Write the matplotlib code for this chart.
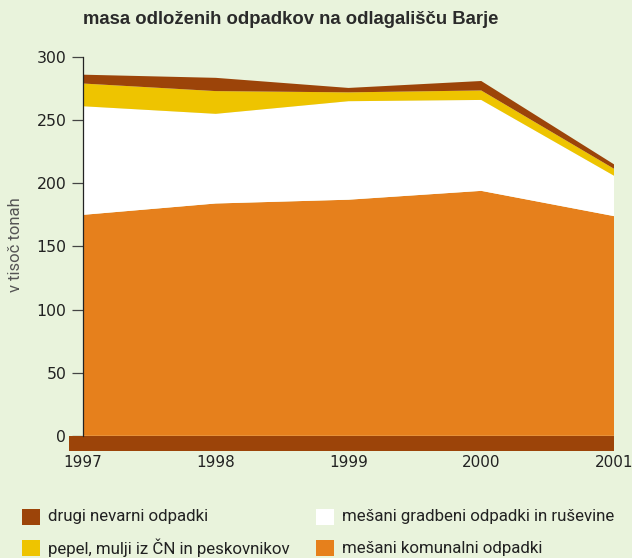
import matplotlib
matplotlib.use("Agg")
import matplotlib.pyplot as plt
from matplotlib.patches import Rectangle

years = [1997, 1998, 1999, 2000, 2001]
komunalni = [175, 184, 187, 194, 174]
gradbeni = [86, 71, 78, 72, 32]
pepel = [18, 18, 7, 7.5, 5.5]
drugi = [7, 10.5, 3.5, 7.5, 3.5]

labels = ["mešani komunalni odpadki", "mešani gradbeni odpadki in ruševine",
          "pepel, mulji iz ČN in peskovnikov", "drugi nevarni odpadki"]
colors = ["#e6801c", "#ffffff", "#eec400", "#9c4409"]
yticks = [0, 50, 100, 150, 200, 250, 300]

bg = "#e9f3dc"
W, H = 632, 558
fig = plt.figure(figsize=(W / 100, H / 100), dpi=100, facecolor=bg)
ax = fig.add_axes([83 / W, (H - 451) / H, (614 - 83) / W, (451 - 57) / H])
ax.set_facecolor(bg)

ax.stackplot(years, komunalni, gradbeni, pepel, drugi, colors=colors,
             linewidth=0, antialiased=True)
ax.set_xlim(1997, 2001)
ax.set_ylim(-12, 300)

# bottom band
ax.add_patch(Rectangle((1996.895, -12), 2001 - 1996.895, 12, facecolor="#9c4409",
                       edgecolor="none", clip_on=False, zorder=3))

for s in ["top", "right", "bottom"]:
    ax.spines[s].set_visible(False)
ax.spines["left"].set_bounds(0, 300)
ax.spines["left"].set_color("#222222")
ax.spines["left"].set_linewidth(0.9)
ax.spines["left"].set_zorder(4)

ax.set_yticks(yticks)
ax.set_yticklabels([str(v) for v in yticks], fontfamily="DejaVu Sans", fontsize=11.3,
                   color="#222222")
ax.tick_params(axis="y", length=8, width=0.9, color="#444444", pad=4)
ax.set_xticks(years)
ax.set_xticklabels([str(y) for y in years], fontfamily="DejaVu Sans", fontsize=11,
                   color="#222222")
ax.tick_params(axis="x", length=0, pad=3)

fig.text(83 / W, 1 - 20 / H, "masa odloženih odpadkov na odlagališču Barje",
         fontfamily="Liberation Sans", fontweight="bold", fontsize=13.3,
         color="#2a2a2a", va="center", ha="left")
fig.text(15.5 / W, 1 - 245 / H, "v tisoč tonah", rotation=90, fontfamily="Roboto",
         fontsize=12, color="#555555", va="center", ha="center")

# legend
legend_items = [
    (22, 517, labels[3], colors[3]),
    (22, 548, labels[2], colors[2]),
    (316, 517, labels[1], colors[1]),
    (316, 548, labels[0], colors[0]),
]
for x, y, lab, col in legend_items:
    fig.patches.append(Rectangle((x / W, 1 - (y + 8) / H), 18 / W, 16 / H,
                                 facecolor=col, edgecolor="none",
                                 transform=fig.transFigure, figure=fig))
    fig.text((x + 26) / W, 1 - y / H, lab, fontfamily="Roboto", fontsize=12.2,
             color="#222222", va="center", ha="left")

fig.savefig("out.png", dpi=100, facecolor=bg)
